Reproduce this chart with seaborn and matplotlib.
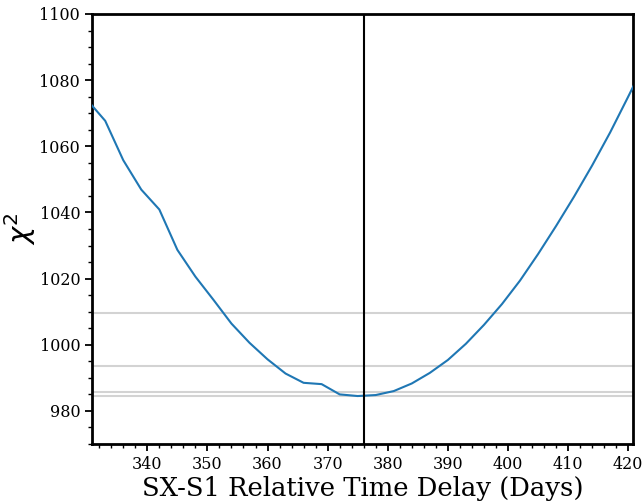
import matplotlib
matplotlib.use("Agg")
import matplotlib.pyplot as plt
import seaborn as sns
import numpy as np
import pandas as pd
from matplotlib.ticker import MultipleLocator

# Data
delay_days = [330, 333, 336, 339, 342, 345, 348, 351, 354, 357, 360, 363, 366, 369,
              372, 375, 378, 381, 384, 387, 390, 393, 396, 399, 402, 405, 408, 411,
              414, 417, 420, 423]
chi2_values = [1074.0, 1067.7, 1055.8, 1046.9, 1040.9, 1028.7, 1020.6, 1013.6, 1006.4,
               1000.6, 995.6, 991.3, 988.5, 988.1, 985.0, 984.5, 984.8, 986.0, 988.3,
               991.5, 995.4, 1000.3, 1006.0, 1012.3, 1019.4, 1027.4, 1035.9, 1044.8,
               1054.2, 1064.2, 1075.0, 1086.0]
best_delay = 376.0
conf_levels = [984.6, 985.6, 993.6, 1009.6]

sns.set_style("ticks")
plt.rcParams["font.family"] = ["DejaVu Serif"]
plt.rcParams["mathtext.fontset"] = "dejavusans"
plt.rcParams["text.color"] = "black"
plt.rcParams["axes.labelcolor"] = "black"
plt.rcParams["xtick.color"] = "black"
plt.rcParams["ytick.color"] = "black"

fig = plt.figure(figsize=(6.44, 5.01), dpi=100)
ax = fig.add_axes([92/644, 1 - 444/501, (633 - 92)/644, (444 - 14)/501])

df = pd.DataFrame({"delay": delay_days, "chi2": chi2_values})
for lvl in conf_levels:
    ax.axhline(lvl, color="lightgray", lw=1.5, zorder=1)
sns.lineplot(data=df, x="delay", y="chi2", ax=ax, color="#1f77b4", lw=1.5, zorder=3)
ax.axvline(best_delay, color="black", lw=1.5, zorder=4)

ax.set_xlim(330.8, 420.8)
ax.set_ylim(970, 1100)
ax.xaxis.set_major_locator(MultipleLocator(10))
ax.xaxis.set_minor_locator(MultipleLocator(2))
ax.yaxis.set_major_locator(MultipleLocator(20))
ax.yaxis.set_minor_locator(MultipleLocator(5))
ax.tick_params(which="major", direction="out", length=5, width=1.3, labelsize=11.5,
               color="black", labelcolor="black")
ax.tick_params(which="minor", direction="out", length=3, width=1.0, color="black")
for s in ax.spines.values():
    s.set_linewidth(2)
    s.set_color("black")

ax.set_xlabel("SX-S1 Relative Time Delay (Days)", fontsize=18.6, labelpad=2, color="black")
ax.set_ylabel(r"$\chi^2$", fontsize=21, family="DejaVu Sans", labelpad=1, color="black")

fig.savefig("out.png", dpi=100)
